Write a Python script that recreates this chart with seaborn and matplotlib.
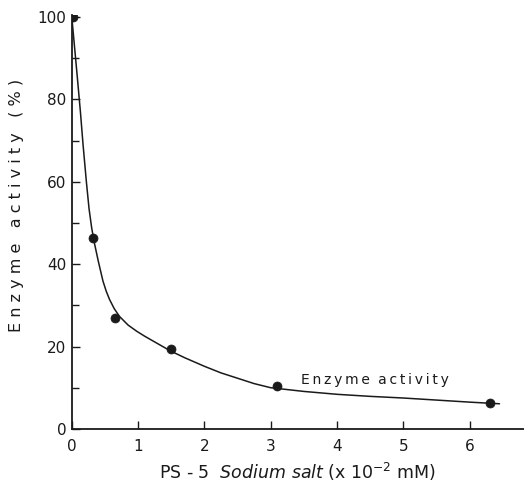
import numpy as np
import pandas as pd
import matplotlib
matplotlib.use("Agg")
import matplotlib.pyplot as plt
import seaborn as sns
from matplotlib.ticker import MultipleLocator

# measured points
conc = [0.02, 0.32, 0.65, 1.5, 3.1, 6.3]
activity = [100, 46.3, 27.0, 19.5, 10.4, 6.3]

# hand-drawn fitted curve
curve_x = [0.0, 0.04, 0.08, 0.13, 0.17, 0.22, 0.26, 0.30, 0.34, 0.40,
           0.47, 0.52, 0.57, 0.64, 0.72, 0.85, 0.98, 1.1, 1.23, 1.35,
           1.48, 1.7, 2.0, 2.25, 2.5, 2.75, 3.0, 3.5, 4.0, 4.5,
           5.0, 5.5, 6.0, 6.45]
curve_y = [100, 93, 86, 77, 69, 60, 53.5, 48.8, 45.2, 40.7,
           35.9, 33.4, 31.4, 29.2, 27.3, 25.2, 23.7, 22.5, 21.3, 20.2,
           19.0, 17.3, 15.2, 13.6, 12.3, 11.0, 10.0, 9.1, 8.4, 7.9,
           7.5, 7.0, 6.5, 6.1]

x_ticks = [0, 1, 2, 3, 4, 5, 6]
y_ticks = [0, 20, 40, 60, 80, 100]

sns.set_theme(style="ticks")
plt.rcParams['font.family'] = ['DejaVu Sans']

ink = "#1a1a1a"
fig = plt.figure(figsize=(5.24, 4.83), dpi=100)
ax = fig.add_axes([0.137, 0.112, 0.863, 0.857])

points = pd.DataFrame({"x": conc, "y": activity})
curve = pd.DataFrame({"x": curve_x, "y": curve_y})

sns.lineplot(data=curve, x="x", y="y", sort=False, color=ink, lw=1.1, ax=ax)
sns.scatterplot(data=points, x="x", y="y", color=ink, s=42, edgecolor=ink, zorder=3, ax=ax)

ax.set_xlim(0, 6.82)
ax.set_ylim(0, 100.5)
ax.set_xticks(x_ticks)
ax.set_yticks(y_ticks)
ax.yaxis.set_minor_locator(MultipleLocator(10))
ax.tick_params(axis="both", which="both", direction="in", colors=ink,
               labelcolor=ink, labelsize=11, width=1)
ax.tick_params(axis="both", which="major", length=6)
ax.tick_params(axis="y", which="minor", length=5)
ax.tick_params(axis="x", pad=7)
ax.tick_params(axis="y", pad=4)

sns.despine(ax=ax)
for s in ["left", "bottom"]:
    ax.spines[s].set_color(ink)
    ax.spines[s].set_linewidth(1.3)

ax.set_xlabel("PS - 5  $\\it{Sodium\\ salt}$ (x 10$^{-2}$ mM)", fontsize=12.5,
              color=ink, labelpad=5)
ax.set_ylabel("E n z y m e   a c t i v i t y   ( % )", fontsize=11.5, color=ink)
ax.yaxis.set_label_coords(-0.105, 0.54)

label = "\u2009".join("Enzyme") + "\u2009\u2009\u2009" + "\u2009".join("activity")
ax.text(4.57, 11.8, label, fontsize=10,
        color=ink, ha="center", va="center")

fig.savefig("out.png", dpi=100)
